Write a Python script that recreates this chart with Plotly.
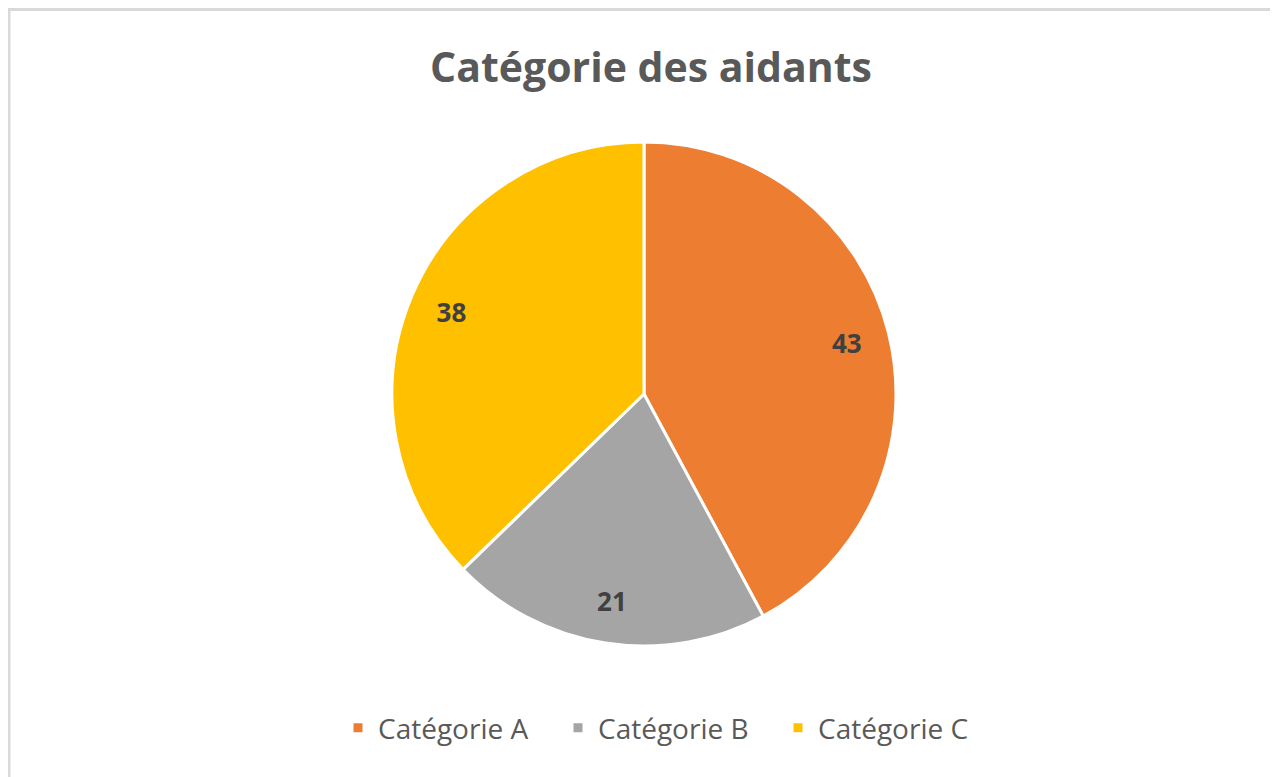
import plotly.graph_objects as go

categories = ["Catégorie A", "Catégorie B", "Catégorie C"]
values = [43, 21, 38]
colors = ["#ED7D31", "#A5A5A5", "#FFC000"]
title_text = "Catégorie des aidants"

W, H = 1278, 777
# pie geometry in figure pixels (page adds 8px body margin)
CX, CY, R = 636, 386, 252
dom = dict(x=[(CX - R) / W, (CX + R) / W], y=[(H - CY - R) / H, (H - CY + R) / H])

fig = go.Figure()
fig.add_trace(go.Pie(
    labels=categories,
    values=values,
    marker=dict(colors=colors, line=dict(color="white", width=3)),
    sort=False,
    direction="clockwise",
    rotation=0,
    textinfo="none",
    domain=dom,
    hoverinfo="label+value",
))
# transparent ring used only to place value labels near the rim
fig.add_trace(go.Pie(
    labels=categories,
    values=values,
    hole=0.66,
    marker=dict(colors=["rgba(0,0,0,0)"] * 3, line=dict(width=0)),
    sort=False,
    direction="clockwise",
    rotation=0,
    textinfo="value",
    textposition="inside",
    insidetextorientation="horizontal",
    textfont=dict(family="Open Sans", size=26, color="#404040", weight="bold"),
    domain=dom,
    showlegend=False,
    hoverinfo="skip",
))

fig.update_layout(
    width=W, height=H,
    margin=dict(l=0, r=0, t=0, b=0),
    paper_bgcolor="white",
    title=dict(text=title_text, x=643 / W, xanchor="center", y=1 - 60 / H, yanchor="middle",
               font=dict(family="Open Sans", size=41, color="#595959", weight="bold")),
    showlegend=True,
    legend=dict(orientation="h", x=660 / W, xanchor="center", y=(H - 720) / H, yanchor="middle",
                font=dict(family="Open Sans", size=28, color="#595959"),
                itemwidth=30, entrywidth=175, entrywidthmode="pixels", traceorder="normal"),
    shapes=[dict(type="rect", xref="paper", yref="paper",
                 x0=1 / W, x1=1.05, y0=-0.05, y1=1 - 1.5 / H,
                 line=dict(color="#d9d9d9", width=3), fillcolor="rgba(0,0,0,0)")],
)

fig.write_html("out.html")
